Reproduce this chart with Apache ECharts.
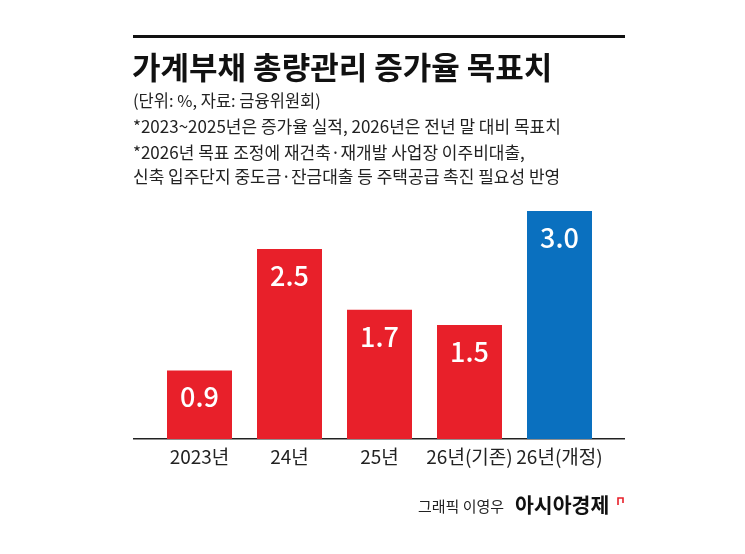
<!DOCTYPE html>
<html>
<head>
<meta charset="utf-8">
<script src="https://cdn.jsdelivr.net/npm/echarts@6/dist/echarts.min.js"></script>
<style>
  html, body { margin: 0; padding: 0; background: #fff; }
  #chart { width: 745px; height: 554px; }
</style>
</head>
<body>
<div id="chart"></div>
<script>
// 데이터
var categories = ['2023년', '24년', '25년', '26년(기존)', '26년(개정)'];
var values = [0.9, 2.5, 1.7, 1.5, 3.0];
var barColors = ['#e8202a', '#e8202a', '#e8202a', '#e8202a', '#0a70bf'];

var titleText = '가계부채 총량관리 증가율 목표치';
var noteLines = [
	'(단위: %, 자료: 금융위원회)',
	'*2023~2025년은 증가율 실적, 2026년은 전년 말 대비 목표치',
	'*2026년 목표 조정에 재건축·재개발 사업장 이주비대출,',
	'신축 입주단지 중도금·잔금대출 등 주택공급 촉진 필요성 반영'
];
var creditText = '그래픽 이영우';
var brandText = '아시아경제';

var FONT = '"Noto Sans CJK KR", "Noto Sans", sans-serif';

var myChart = echarts.init(document.getElementById('chart'));

function txt(x, y, text, font, fill) {
	return { type: 'text', style: { x: x, y: y, text: text, font: font, fill: fill, verticalAlign: 'middle' } };
}

var graphics = [
	// 상단 굵은 선
	{ type: 'rect', shape: { x: 133, y: 35, width: 492, height: 3 }, style: { fill: '#111' } },
	txt(132, 67, titleText, 'bold 31px ' + FONT, '#111'),
	// 기준선
	{ type: 'rect', shape: { x: 133, y: 438, width: 492, height: 1.5 }, style: { fill: '#222' } },
	txt(418, 506, creditText, '15px ' + FONT, '#222'),
	txt(515, 505, brandText, 'bold 20.5px ' + FONT, '#111'),
	{ type: 'polyline', shape: { points: [[618, 505], [618, 498], [623, 498], [623, 503]] },
	  style: { stroke: '#e8202a', lineWidth: 1.6, fill: null } }
];
var noteY = [101, 127, 153, 177];
var noteSize = [16.5, 17, 17, 17];
for (var i = 0; i < noteLines.length; i++) {
	graphics.push(txt(133, noteY[i], noteLines[i], noteSize[i] + 'px ' + FONT, '#222'));
}

var option = {
	backgroundColor: '#fff',
	animation: false,
	grid: { left: 154.5, width: 450, top: 211, height: 228 },
	xAxis: {
		type: 'category',
		data: categories,
		axisLine: { show: false },
		axisTick: { show: false },
		axisLabel: { interval: 0, fontFamily: FONT, fontSize: 19, color: '#222', margin: 8 }
	},
	yAxis: {
		type: 'value',
		min: 0,
		max: 3,
		show: false,
		splitLine: { show: false }
	},
	series: [{
		type: 'bar',
		barWidth: 65,
		data: values.map(function(v, i) {
			return { value: v, itemStyle: { color: barColors[i] } };
		}),
		label: {
			show: true,
			position: 'insideTop',
			distance: 13,
			color: '#fff',
			fontFamily: FONT,
			fontSize: 27,
			fontWeight: 500,
			formatter: function(p) { return p.value.toFixed(1); }
		}
	}],
	graphic: graphics
};
myChart.setOption(option);
</script>
</body>
</html>
